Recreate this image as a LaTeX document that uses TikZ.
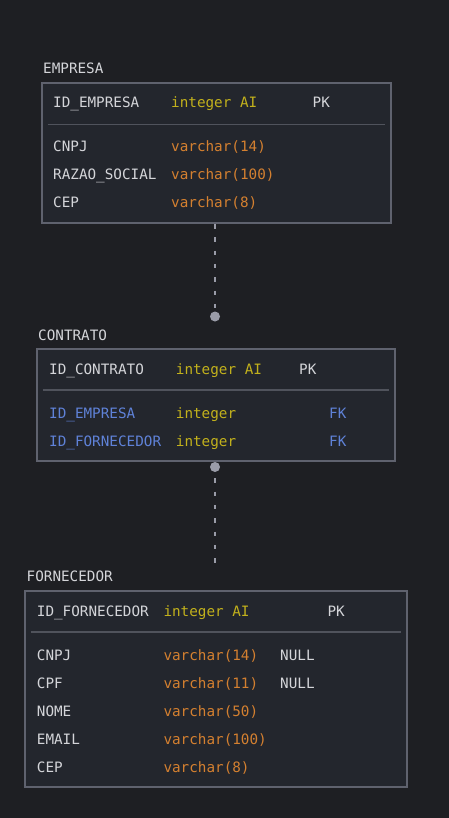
\documentclass[tikz,border=0pt]{standalone}
\usepackage{fontspec}
\setmonofont{DejaVu Sans Mono}
\usetikzlibrary{positioning}
\definecolor{bgdark}{HTML}{1E1F23}
\definecolor{boxfill}{HTML}{23262D}
\definecolor{boxline}{HTML}{5F626E}
\definecolor{sepline}{HTML}{50535C}
\definecolor{fieldtxt}{HTML}{D4D5D9}
\definecolor{inttxt}{HTML}{C2B11C}
\definecolor{vartxt}{HTML}{D48030}
\definecolor{fktxt}{HTML}{5F82D8}
\definecolor{relline}{HTML}{9A9CA8}

\begin{document}
\begin{tikzpicture}[x=1pt, y=-1pt,
	tbl/.style={draw=boxline, line width=2pt, fill=boxfill, anchor=north west, inner sep=0pt},
	sep/.style={draw=sepline, line width=1.5pt},
	txt/.style={anchor=base west, inner sep=0pt, font=\ttfamily\fontsize{14.3}{16}\selectfont},
	fld/.style={txt, text=fieldtxt},
	int/.style={txt, text=inttxt},
	var/.style={txt, text=vartxt},
	fk/.style={txt, text=fktxt},
	rel/.style={draw=relline, line width=2pt, dash pattern=on 4.5pt off 8.8pt},
	dot/.style={fill=relline}]
	\useasboundingbox (0,0) rectangle (448,818);
	\fill[bgdark] (-3,-3) rectangle (451,821);

	% EMPRESA
	\node[fld] (empTitle) at (43,73.3) {EMPRESA};
	\node[tbl, minimum width=349, minimum height=140] (emp) at (40.5,82) {};
	\draw[sep] ([xshift=7pt,yshift=-42.3pt]emp.north west) -- ([xshift=-7pt,yshift=-42.3pt]emp.north east);
	\node[fld] (empId) at (53,107.5) {ID\_EMPRESA};
	\node[int] (empIdT) at (171,107.5) {integer AI};
	\node[fld] (empPk) at (312.5,107.5) {PK};
	\node[fld] (empCnpj) at (53,151.7) {CNPJ};
	\node[var] (empCnpjT) at (171,151.7) {varchar(14)};
	\node[fld] (empRazao) at (53,179.7) {RAZAO\_SOCIAL};
	\node[var] (empRazaoT) at (171,179.7) {varchar(100)};
	\node[fld] (empCep) at (53,207.7) {CEP};
	\node[var] (empCepT) at (171,207.7) {varchar(8)};

	% CONTRATO
	\node[fld] (conTitle) at (38,340) {CONTRATO};
	\node[tbl, minimum width=358, minimum height=112] (con) at (35.5,348) {};
	\draw[sep] ([xshift=7pt,yshift=-42pt]con.north west) -- ([xshift=-7pt,yshift=-42pt]con.north east);
	\node[fld] (conId) at (49,374) {ID\_CONTRATO};
	\node[int] (conIdT) at (175.7,374) {integer AI};
	\node[fld] (conPk) at (299,374) {PK};
	\node[fk] (conEmp) at (49,418.7) {ID\_EMPRESA};
	\node[int] (conEmpT) at (175.7,418.7) {integer};
	\node[fk] (conEmpFk) at (329,418.7) {FK};
	\node[fk] (conForn) at (49,446.7) {ID\_FORNECEDOR};
	\node[int] (conFornT) at (175.7,446.7) {integer};
	\node[fk] (conFornFk) at (329,446.7) {FK};

	% FORNECEDOR
	\node[fld] (forTitle) at (26.5,581.7) {FORNECEDOR};
	\node[tbl, minimum width=382, minimum height=196] (for) at (23.5,590) {};
	\draw[sep] ([xshift=7pt,yshift=-42pt]for.north west) -- ([xshift=-7pt,yshift=-42pt]for.north east);
	\node[fld] (forId) at (36.7,616) {ID\_FORNECEDOR};
	\node[int] (forIdT) at (163.3,616) {integer AI};
	\node[fld] (forPk) at (327.3,616) {PK};
	\node[fld] (forCnpj) at (36.7,660.7) {CNPJ};
	\node[var] (forCnpjT) at (163.3,660.7) {varchar(14)};
	\node[fld] (forCnpjN) at (280,660.7) {NULL};
	\node[fld] (forCpf) at (36.7,688.7) {CPF};
	\node[var] (forCpfT) at (163.3,688.7) {varchar(11)};
	\node[fld] (forCpfN) at (280,688.7) {NULL};
	\node[fld] (forNome) at (36.7,716.7) {NOME};
	\node[var] (forNomeT) at (163.3,716.7) {varchar(50)};
	\node[fld] (forEmail) at (36.7,744.7) {EMAIL};
	\node[var] (forEmailT) at (163.3,744.7) {varchar(100)};
	\node[fld] (forCep) at (36.7,772.7) {CEP};
	\node[var] (forCepT) at (163.3,772.7) {varchar(8)};

	% relations
	\coordinate (empDot) at (215,316.5);
	\coordinate (conDot) at (215,467);
	\coordinate (forEnd) at (215,566);
	\draw[rel] (emp.south -| empDot) -- (empDot);
	\fill[dot] (empDot) circle (5pt);
	\draw[rel, dash phase=2pt] (conDot) -- (forEnd);
	\fill[dot] (conDot) circle (5pt);
\end{tikzpicture}
\end{document}
